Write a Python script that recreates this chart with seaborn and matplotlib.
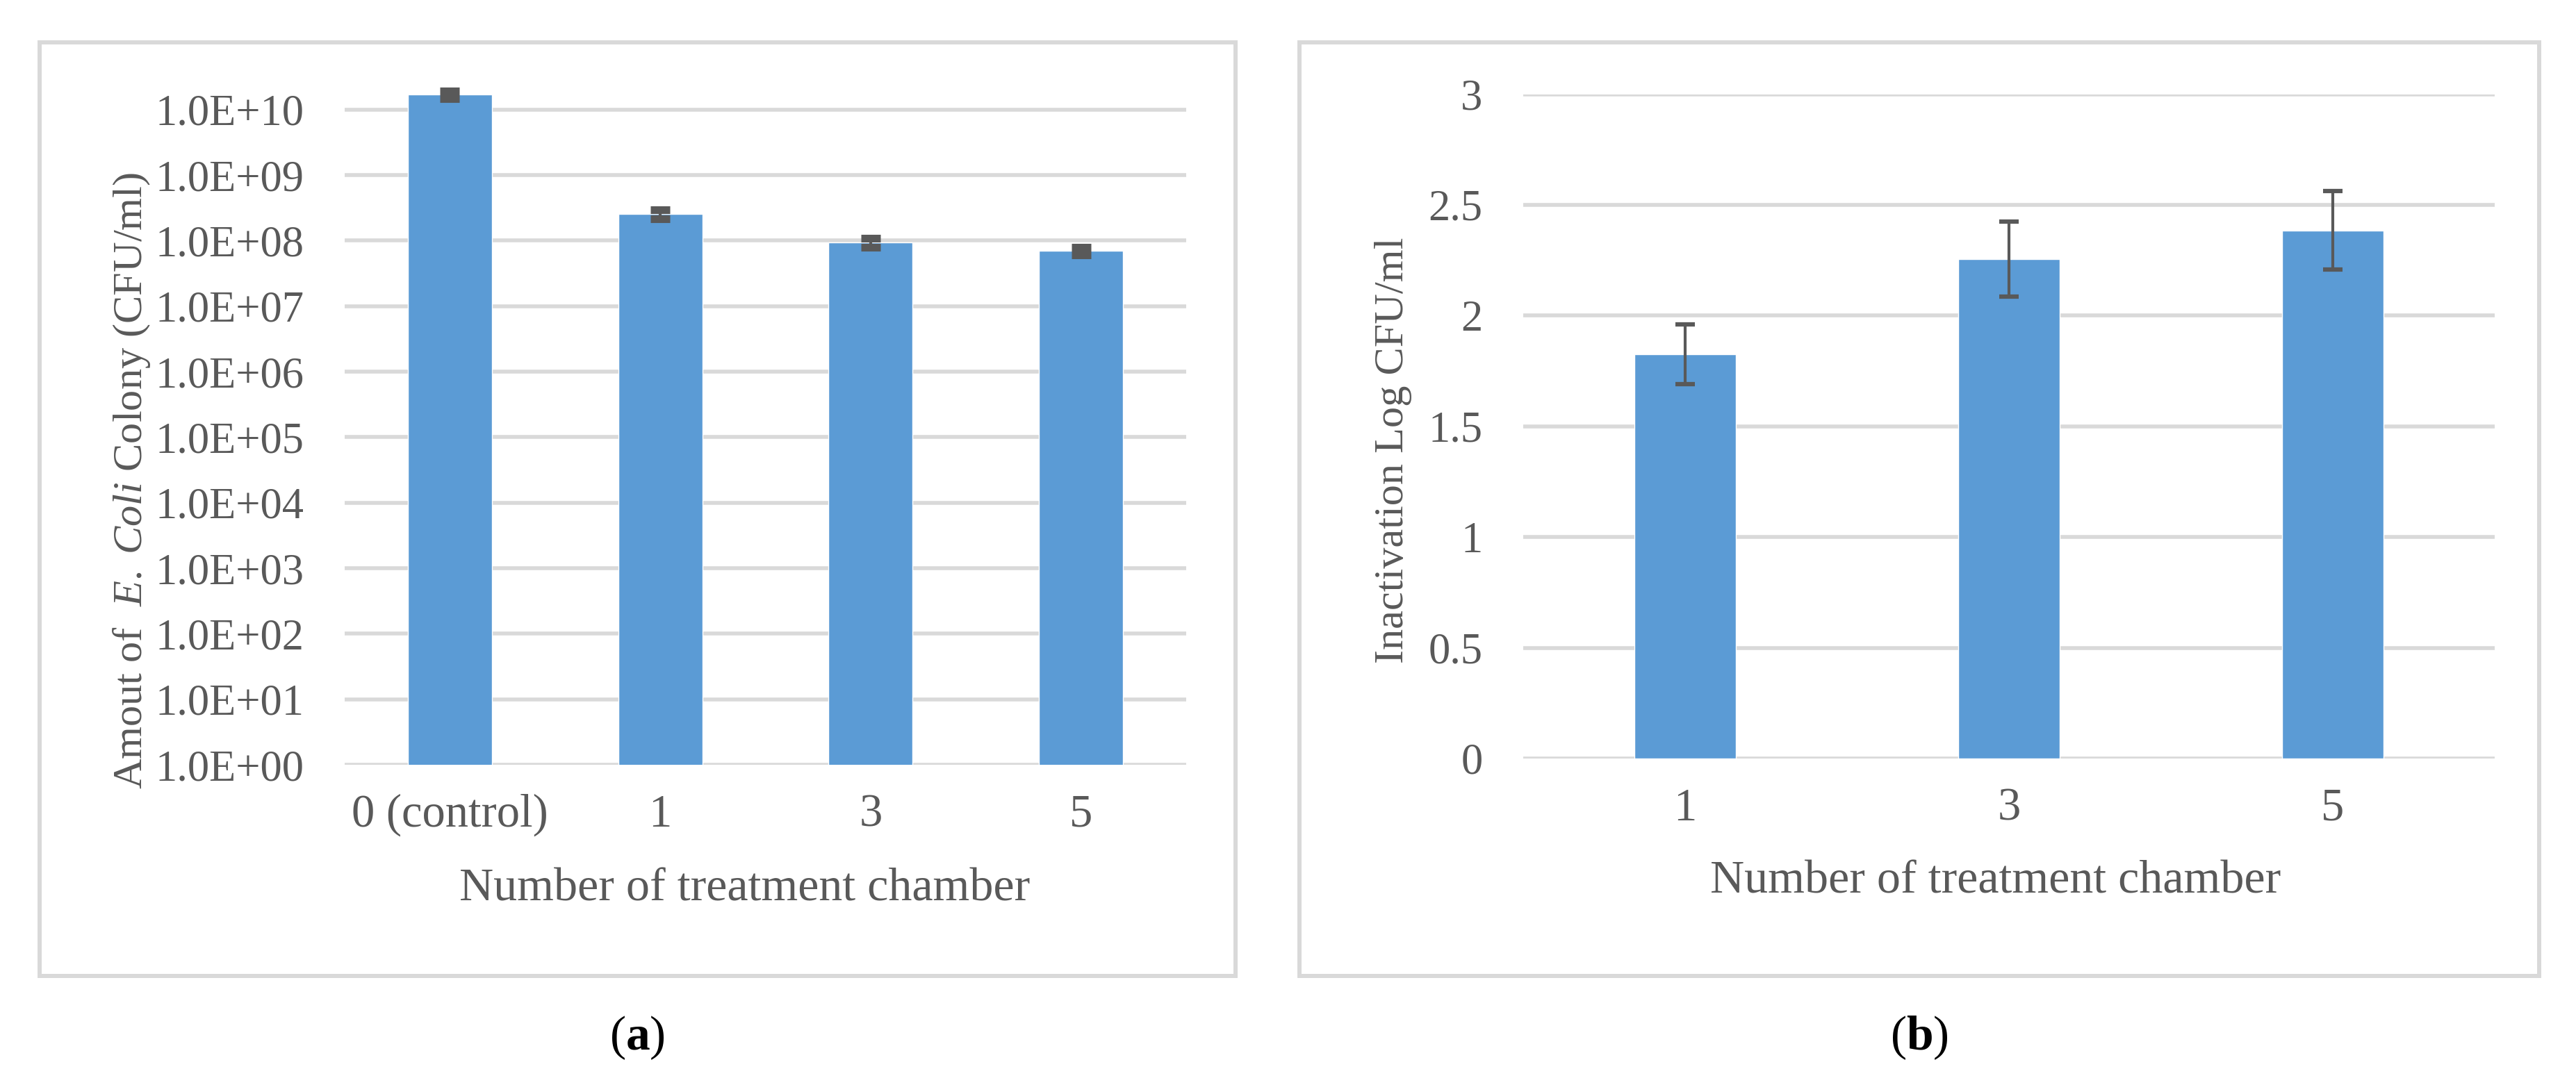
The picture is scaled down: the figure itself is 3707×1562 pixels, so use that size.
import matplotlib
matplotlib.use('Agg')
import matplotlib.pyplot as plt
import matplotlib.ticker as mticker
from matplotlib.patches import Rectangle
import pandas as pd
import seaborn as sns

# Datos
camaras_a = ['0 (control)', '1', '3', '5']
ufc_media = [1.7e10, 2.55e8, 9.4e7, 7.0e7]
ufc_error = [2.2e9, 3.8e7, 1.4e7, 1.0e7]

camaras_b = ['1', '3', '5']
log_inactivacion = [1.825, 2.255, 2.385]
log_error = [0.135, 0.17, 0.177]

decadas = [10.0 ** k for k in range(0, 11)]
ticks_b = [0, 0.5, 1, 1.5, 2, 2.5, 3]

sns.set_style('white')
plt.rcParams['font.family'] = ['Liberation Serif', 'DejaVu Serif']
plt.rcParams['mathtext.fontset'] = 'custom'
plt.rcParams['mathtext.rm'] = 'Liberation Serif'
plt.rcParams['mathtext.it'] = 'Liberation Serif:italic'
plt.rcParams['mathtext.bf'] = 'Liberation Serif:bold'

AZUL = '#5B9BD5'
GRIS = '#595959'
REJILLA = '#D9D9D9'

W, H = 3707, 1562
fig = plt.figure(figsize=(W / 100, H / 100), dpi=100)

# Marcos de cada panel
for x0, x1 in [(57, 1778), (1870, 3654)]:
    fig.patches.append(Rectangle((x0 / W, 1 - 1405 / H), (x1 - x0) / W, (1405 - 61) / H,
                                 transform=fig.transFigure, fill=False,
                                 edgecolor=REJILLA, linewidth=4.3))

def estilo(ax):
    sns.despine(ax=ax, left=True, bottom=True, top=True, right=True)
    ax.set_axisbelow(True)
    ax.yaxis.grid(True, color=REJILLA, linewidth=4.0)
    ax.xaxis.grid(False)
    ax.tick_params(length=0, colors=GRIS)
    ax.tick_params(axis='y', labelsize=45, pad=42)
    ax.tick_params(axis='x', labelsize=48, pad=30)

# (a) Cantidad de colonias, escala logaritmica
ax1 = fig.add_axes([496 / W, 1 - 1101 / H, 1211 / W, 981 / H])
df_a = pd.DataFrame({'camara': camaras_a, 'ufc': ufc_media})
sns.barplot(data=df_a, x='camara', y='ufc', color=AZUL, saturation=1,
            width=0.4, errorbar=None, ax=ax1)
ax1.set_yscale('log')
ax1.errorbar(range(len(camaras_a)), ufc_media, yerr=ufc_error, fmt='none',
             ecolor=GRIS, elinewidth=3, capsize=10.4, capthick=8)
ax1.set_ylim(1, 10 ** 10.4)
ax1.set_xlim(-0.5, 3.5)
ax1.yaxis.set_major_locator(mticker.FixedLocator(decadas))
ax1.yaxis.set_minor_locator(mticker.NullLocator())
ax1.yaxis.set_major_formatter(mticker.FuncFormatter(lambda v, p: f'{v:.1E}'))
estilo(ax1)
ax1.set_xlabel('Number of treatment chamber', fontsize=49, color=GRIS, va='center')
ax1.set_ylabel(r'Amout of  $\it{E.\ Coli}$ Colony (CFU/ml)', fontsize=43.5, color=GRIS, va='center')
ax1.xaxis.set_label_coords(0.475, -0.1825)
ax1.yaxis.set_label_coords(-0.2535, 0.417)

# (b) Inactivacion logaritmica
ax2 = fig.add_axes([2192 / W, 1 - 1092 / H, 1398 / W, 956.5 / H])
df_b = pd.DataFrame({'camara': camaras_b, 'log': log_inactivacion})
sns.barplot(data=df_b, x='camara', y='log', color=AZUL, saturation=1,
            width=0.314, errorbar=None, ax=ax2)
ax2.errorbar(range(len(camaras_b)), log_inactivacion, yerr=log_error, fmt='none',
             ecolor=GRIS, elinewidth=3, capsize=10.4, capthick=4.5)
ax2.set_ylim(0, 3)
ax2.set_xlim(-0.5, 2.5)
ax2.set_yticks(ticks_b)
ax2.set_yticklabels([f'{t:g}' for t in ticks_b])
estilo(ax2)
ax2.set_xlabel('Number of treatment chamber', fontsize=49, color=GRIS, va='center')
ax2.set_ylabel('Inactivation Log CFU/ml', fontsize=43.5, color=GRIS, va='center')
ax2.xaxis.set_label_coords(0.4864, -0.185)
ax2.yaxis.set_label_coords(-0.1338, 0.464)

# Rotulos de los paneles
fig.text(917 / W, 1 - 1494 / H, r'($\mathbf{a}$)', fontsize=50, ha='center', va='center', color='black')
fig.text(2762 / W, 1 - 1494 / H, r'($\mathbf{b}$)', fontsize=50, ha='center', va='center', color='black')

fig.savefig('out.png', dpi=100)
